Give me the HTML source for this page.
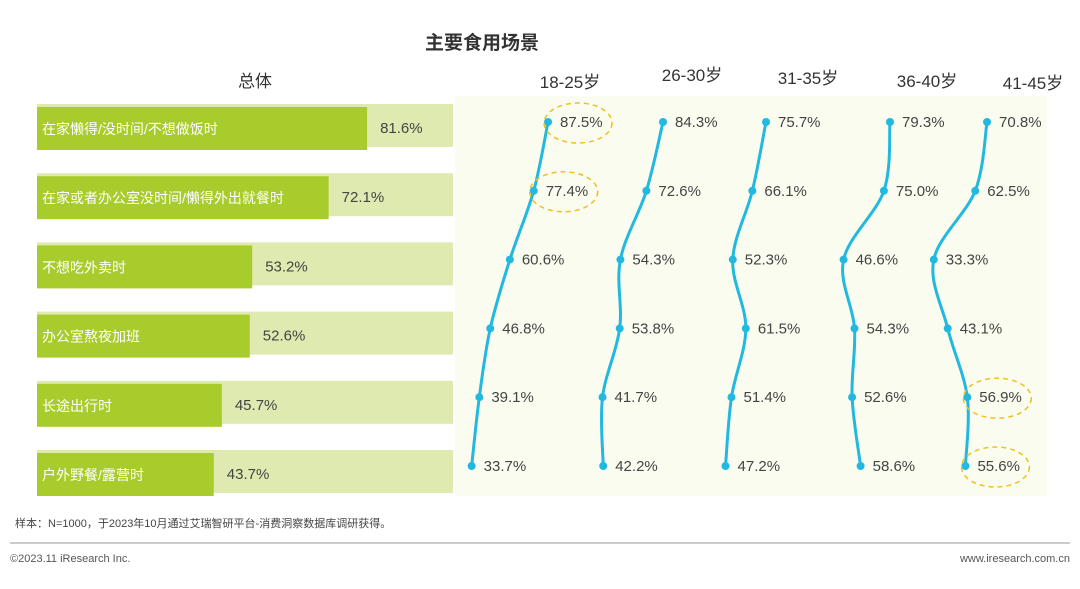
<!DOCTYPE html>
<html><head><meta charset="utf-8"><style>
body{margin:0;width:1080px;height:584px;background:#fff;font-family:"Liberation Sans","Noto Sans CJK SC",sans-serif;overflow:hidden}
svg text{font-family:"Liberation Sans","Noto Sans CJK SC",sans-serif}
</style></head><body>
<svg id="c" width="1080" height="584">
<rect x="455" y="96" width="592" height="400" fill="#fbfcf0"/>
<text x="482" y="49" font-size="19" font-weight="bold" fill="#333" text-anchor="middle">主要食用场景</text>
<text x="255" y="87" font-size="17" fill="#333" text-anchor="middle">总体</text>
<g id="bars"></g><g id="lines"></g>
<text x="15" y="527" font-size="11" fill="#444">样本：N=1000，于2023年10月通过艾瑞智研平台-消费洞察数据库调研获得。</text>
<line x1="10" y1="543" x2="1070" y2="543" stroke="#bbb" stroke-width="1.5"/>
<text x="10" y="562" font-size="11" fill="#555">©2023.11 iResearch Inc.</text>
<text x="1070" y="562" font-size="11" fill="#555" text-anchor="end">www.iresearch.com.cn</text>
</svg>
<script>
const categories=["在家懒得/没时间/不想做饭时","在家或者办公室没时间/懒得外出就餐时","不想吃外卖时","办公室熬夜加班","长途出行时","户外野餐/露营时"];
const overall=[81.6,72.1,53.2,52.6,45.7,43.7];
const groups=["18-25岁","26-30岁","31-35岁","36-40岁","41-45岁"];
const g1825=[87.5,77.4,60.6,46.8,39.1,33.7];
const g2630=[84.3,72.6,54.3,53.8,41.7,42.2];
const g3135=[75.7,66.1,52.3,61.5,51.4,47.2];
const g3640=[79.3,75.0,46.6,54.3,52.6,58.6];
const g4145=[70.8,62.5,33.3,43.1,56.9,55.6];
const highlights=[[0,0],[0,1],[4,4],[4,5]];
const series=[g1825,g2630,g3135,g3640,g4145];
const NS="http://www.w3.org/2000/svg";
function mk(t,a,p){const e=document.createElementNS(NS,t);for(const k in a)e.setAttribute(k,a[k]);p.appendChild(e);return e;}
const rowY=i=>104+i*69.2;
const barX=v=>37+v*4.045;
const bars=document.getElementById('bars');
categories.forEach((c,i)=>{
 const y=rowY(i);
 const bg=mk('rect',{x:37,y:y,width:416,height:43,fill:'#dfeab0'},bars);
 
 
 const b=mk('rect',{x:37,y:y+3,width:barX(overall[i])-37,height:43,fill:'#a8cc2c'},bars);
 
 
 const t=mk('text',{x:42,y:y+30,'font-size':14,fill:'#fff'},bars);t.textContent=c;
 
 
 const v=mk('text',{x:barX(overall[i])+13,y:y+29,'font-size':15,fill:'#444'},bars);v.textContent=overall[i].toFixed(1)+'%';
 
 
});
const K=1.42;const bases=[423.8,543.3,658.5,777.4,886.5];
const headX=[570,692,808,927,1033];
const lines=document.getElementById('lines');
const ptY=i=>122+i*68.8;
series.forEach((s,g)=>{
 const h=mk('text',{x:headX[g],y:[88,81,84,87,89][g],'font-size':17,fill:'#333','text-anchor':'middle'},lines);h.textContent=groups[g];
 
 
 const pts=s.map((v,i)=>[bases[g]+K*v,ptY(i)]);
 let d='M'+pts[0][0]+','+pts[0][1];
 for(let i=1;i<pts.length;i++){
  const p0=pts[Math.max(i-2,0)],a=pts[i-1],b=pts[i],p3=pts[Math.min(i+1,pts.length-1)];
  const c1=[a[0]+(b[0]-p0[0])/6,a[1]+(b[1]-p0[1])/6],c2=[b[0]-(p3[0]-a[0])/6,b[1]-(p3[1]-a[1])/6];
  d+=` C${c1[0]},${c1[1]} ${c2[0]},${c2[1]} ${b[0]},${b[1]}`;
 }
 const p=mk('path',{d:d,fill:'none',stroke:'#22b8e0','stroke-width':3},lines);
 
 
 pts.forEach((q,i)=>{
  const c=mk('circle',{cx:q[0],cy:q[1],r:4,fill:'#22b8e0'},lines);
  
  
  const t=mk('text',{x:q[0]+12,y:q[1]+5,'font-size':15,fill:'#444'},lines);t.textContent=s[i].toFixed(1)+'%';
  
  
 });
});
highlights.forEach(([g,i])=>{
 const x=bases[g]+K*series[g][i];
 const e=mk('ellipse',{cx:x+30,cy:ptY(i)+1,rx:34,ry:20,fill:'none',stroke:'#f0c020','stroke-width':1.5,'stroke-dasharray':'5,4'},lines);
 
 
});
</script>
</body></html>
